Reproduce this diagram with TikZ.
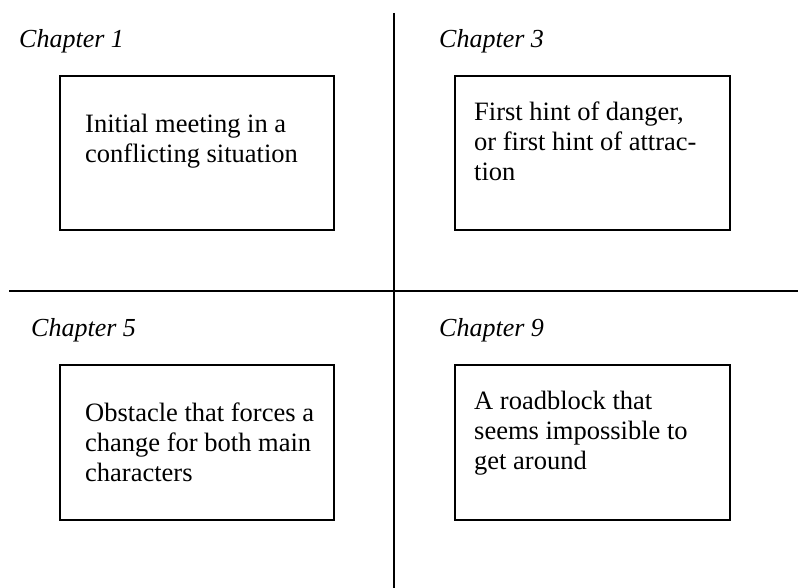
\documentclass[tikz,border=0pt]{standalone}
\usepackage{fontspec}
\setmainfont{Liberation Serif}
\usetikzlibrary{positioning}

\tikzset{
  chapbox/.style={draw, line width=2pt, anchor=north west, inner sep=0pt,
    minimum height=154.5pt},
  boxtext/.style={anchor=north west, inner sep=0pt, align=left,
    font=\fontsize{26.5}{30}\selectfont},
  chaplabel/.style={anchor=base west, inner sep=0pt,
    font=\fontsize{26}{30}\selectfont\itshape},
  divider/.style={line width=2pt}
}

\begin{document}
\begin{tikzpicture}[x=1pt, y=-1pt]

  \useasboundingbox (0,0) rectangle (798,588);

  % quadrant dividers
  \coordinate (vtop) at (393.5,13);
  \coordinate (vbot) at (393.5,588);
  \coordinate (hleft) at (9,291);
  \coordinate (hright) at (798,291);
  \draw[divider] (vtop) -- (vbot);
  \draw[divider] (hleft) -- (hright);

  % chapter labels
  \node[chaplabel] (ch1) at (19,48) {Chapter 1};
  \node[chaplabel] (ch3) at (439,48) {Chapter 3};
  \node[chaplabel] (ch5) at (31,336) {Chapter 5};
  \node[chaplabel] (ch9) at (439,336) {Chapter 9};

  % boxes
  \node[chapbox, minimum width=274pt] (box1) at (58.5,75) {};
  \node[chapbox, minimum width=275pt] (box3) at (454,75) {};
  \node[chapbox, minimum width=274pt] (box5) at (58.5,364) {};
  \node[chapbox, minimum width=275pt] (box9) at (454,364) {};

  % box contents
  \node[boxtext] (txt1) at ([shift={(26.5,39)}]box1.north west)
    {Initial meeting in a\\conflicting situation};
  \node[boxtext] (txt3) at ([shift={(20,27)}]box3.north west)
    {First hint of danger,\\or first hint of attrac-\\tion};
  \node[boxtext] (txt5) at ([shift={(26.5,38.5)}]box5.north west)
    {Obstacle that forces a\\change for both main\\characters};
  \node[boxtext] (txt9) at ([shift={(20,26.5)}]box9.north west)
    {A roadblock that\\seems impossible to\\get around};

\end{tikzpicture}
\end{document}
